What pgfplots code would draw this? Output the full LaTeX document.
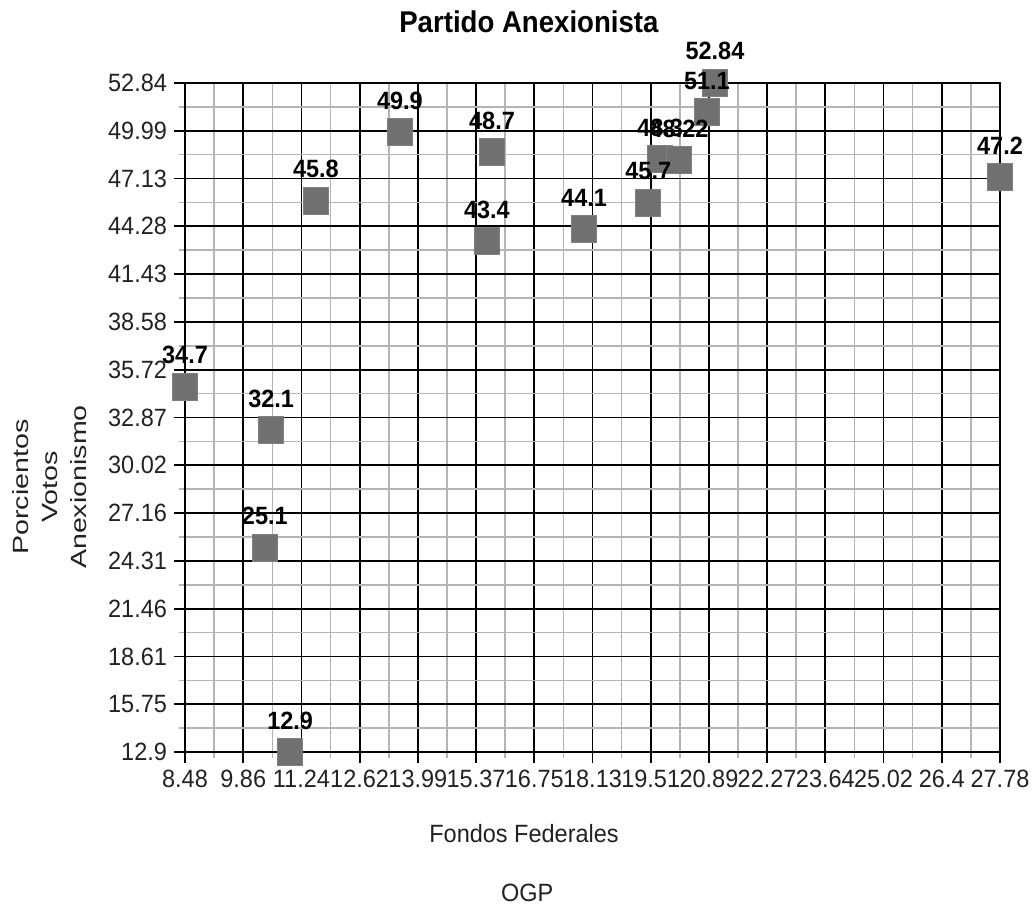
\documentclass[border=0pt]{standalone}
\usepackage{pgfplots}
\pgfplotsset{compat=1.18}
\usepackage{fontspec}
\setmainfont{Liberation Sans}[FakeStretch=0.94]
\newfontfamily\titlefont{Liberation Sans}[FakeStretch=0.92]
\newfontfamily\yfont{Liberation Sans}[FakeStretch=1.3]
\definecolor{mk}{RGB}{112,112,112}
\definecolor{mkd}{RGB}{128,128,128}
\definecolor{txt}{RGB}{34,34,34}
\definecolor{mgrid}{RGB}{180,180,180}
\pgfplotstableread{
x y label
8.48 34.7 34.7
10.52 32.1 32.1
10.37 25.1 25.1
10.97 12.9 12.9
11.58 45.8 45.8
13.57 49.9 49.9
15.75 48.7 48.7
15.63 43.4 43.4
17.93 44.1 44.1
19.45 45.7 45.7
19.73 48.3 48.3
20.18 48.22 48.22
20.84 51.1 51.1
21.03 52.84 52.84
27.78 47.2 47.2
}\datatable
\begin{document}
\begin{tikzpicture}
\begin{axis}[
  name=ax,
  scale only axis,
  width=407.5pt, height=334.5pt,
  xmin=8.48, xmax=27.78, ymin=12.9, ymax=52.84,
  clip=false,
  axis line style={black, line width=0.9pt},
  xtick={8.48,9.8586,11.2371,12.6157,13.9943,15.3729,16.7514,18.13,19.5086,20.8871,22.2657,23.6443,25.0229,26.4014,27.78},
  xticklabels={8.48,9.86,11.24,12.62,13.99,15.37,16.75,18.13,19.51,20.89,22.27,23.64,25.02,26.4,27.78},
  minor xtick={9.1693,10.5479,11.9264,13.305,14.6836,16.0621,17.4407,18.8193,20.1979,21.5764,22.955,24.3336,25.7121,27.0907},
  ytick={12.9,15.7529,18.6057,21.4586,24.3114,27.1643,30.0171,32.87,35.7229,38.5757,41.4286,44.2814,47.1343,49.9871,52.84},
  yticklabels={12.9,15.75,18.61,21.46,24.31,27.16,30.02,32.87,35.72,38.58,41.43,44.28,47.13,49.99,52.84},
  minor ytick={14.3264,17.1793,20.0321,22.885,25.7379,28.5907,31.4436,34.2964,37.1493,40.0021,42.855,45.7079,48.5607,51.4136},
  tick pos=left, tick align=outside,
  major tick length=5.5pt, minor tick length=3pt,
  major tick style={black, line width=0.9pt},
  minor tick style={mgrid, line width=0.8pt},
  grid=both,
  major grid style={black, line width=0.9pt},
  minor grid style={mgrid, line width=0.8pt},
  ticklabel style={font=\fontsize{12.5}{14}\selectfont, text=txt},
]
\addplot[only marks, mark=square*, mark size=6.25pt,
  mark options={fill=mk, draw=mkd, line width=0.5pt, yscale=1.08}]
  table[x=x, y=y] {\datatable};
\addplot[draw=none, mark=none,
  point meta=explicit symbolic,
  nodes near coords,
  every node near coord/.append style={anchor=base, inner sep=0pt, yshift=11.5pt,
    font=\bfseries\fontsize{12.5}{14}\selectfont, text=black}]
  table[x=x, y=y, meta=label] {\datatable};
\node[font=\titlefont\bfseries\fontsize{15}{17}\selectfont, text=black] at (rel axis cs:0.422,1.091) {Partido Anexionista};
\node[font=\fontsize{12.5}{14}\selectfont, text=txt] at (rel axis cs:0.416,-0.1226) {Fondos Federales};
\node[font=\fontsize{12.5}{14}\selectfont, text=txt] at (rel axis cs:0.420,-0.2108) {OGP};
\node[rotate=90, align=center, font=\yfont\fontsize{11}{14.5}\selectfont, text=txt] at (rel axis cs:-0.1656,0.396) {Porcientos\\Votos\\Anexionismo};
\end{axis}
\pgfresetboundingbox
\path[use as bounding box] ([shift={(-92.5pt,-79.5pt)}]ax.south west) rectangle ++(517pt,455.5pt);
\end{tikzpicture}
\end{document}
